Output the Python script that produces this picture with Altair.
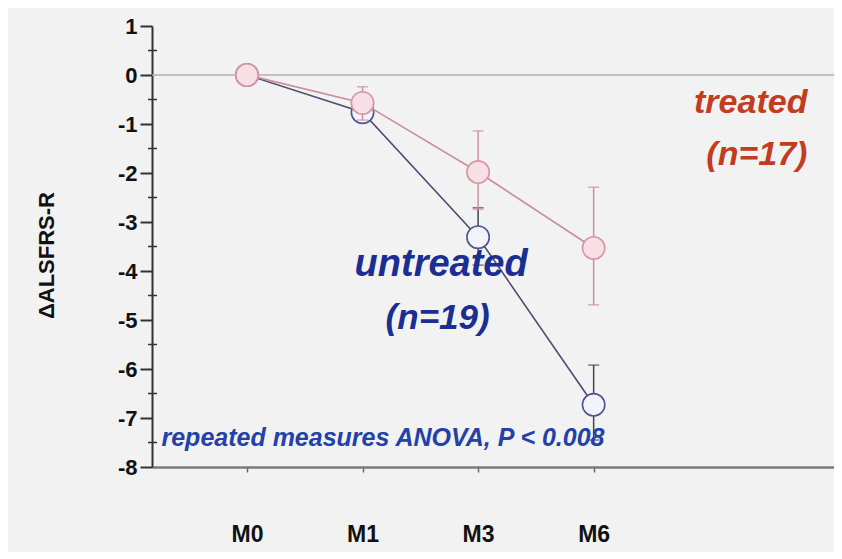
import altair as alt
import pandas as pd

# ---- data ----
months = ["M0", "M1", "M3", "M6"]
month_pos = [0, 1, 2, 3]

treated_mean = [0.0, -0.57, -1.98, -3.53]
treated_lo = [0.0, -0.92, -2.74, -4.69]
treated_hi = [0.0, -0.24, -1.14, -2.29]

untreated_mean = [0.0, -0.76, -3.31, -6.73]
untreated_lo = [0.0, -0.92, -3.88, -7.45]
untreated_hi = [0.0, -0.60, -2.71, -5.92]

y_ticks = [1, 0, -1, -2, -3, -4, -5, -6, -7, -8]
y_minor = [0.5, -0.5, -1.5, -2.5, -3.5, -4.5, -5.5, -6.5, -7.5]

treated = pd.DataFrame({"pos": month_pos, "month": months, "mean": treated_mean,
                        "lo": treated_lo, "hi": treated_hi})
untreated = pd.DataFrame({"pos": month_pos, "month": months, "mean": untreated_mean,
                          "lo": untreated_lo, "hi": untreated_hi})
minor_df = pd.DataFrame({"v": y_minor})

FONT = "Liberation Sans"
YTITLE = "ΔALSFRS-R"
T_LINE = "#c98d9c"
T_FILL = "#f8dfe5"
T_TEXT = "#c23d1d"
U_LINE = "#4a4c72"
U_FILL = "#f3f3fb"
U_TEXT = "#1b2f93"

xscale = alt.Scale(domain=[-0.822, 5.08], nice=False, zero=False)
yscale = alt.Scale(domain=[-8, 1], nice=False, zero=False)

x_axis = alt.Axis(values=month_pos,
                  labelExpr="['M0','M1','M3','M6'][datum.value]",
                  title=None, grid=False,
                  domainColor="#7a7a7a", domainWidth=2.5,
                  tickColor="#666666", tickWidth=1.5, tickSize=5,
                  labelFont=FONT, labelFontSize=23, labelFontWeight="bold",
                  labelColor="#111111", labelPadding=51)
y_axis = alt.Axis(values=y_ticks, title=YTITLE, grid=False,
                  labelExpr="datum.value + ''",
                  domainColor="#333333", domainWidth=2,
                  tickColor="#333333", tickWidth=2, tickSize=12,
                  labelFont=FONT, labelFontSize=22, labelFontWeight="bold",
                  labelColor="#111111", labelPadding=3,
                  titleFont=FONT, titleFontSize=22, titleFontWeight="bold",
                  titleColor="#111111", titleAngle=270,
                  titleX=-106, titleY=229, titleAlign="center",
                  titleBaseline="middle")

x_enc = alt.X("pos:Q", scale=xscale, axis=x_axis, title=None)

zero_line = alt.Chart().mark_rule(color="#b0b0b0", strokeWidth=1.5).encode(
    y=alt.datum(0, scale=yscale, title=YTITLE))

minor = alt.Chart(minor_df).mark_rule(color="#333333", strokeWidth=1.5).encode(
    y=alt.Y("v:Q", scale=yscale, title=YTITLE), x=alt.value(-4), x2=alt.value(5))


def series(df, line_c, fill_c, stroke_c, err_c):
    base = alt.Chart(df)
    err = base.mark_errorbar(orient="vertical", ticks={"size": 11, "thickness": 1.5},
                             color=err_c, thickness=1.5).encode(
        x=x_enc,
        y=alt.Y("lo:Q", scale=yscale, axis=y_axis, title=YTITLE),
        y2="hi:Q")
    line = base.mark_line(color=line_c, strokeWidth=1.6).encode(
        x=x_enc, y=alt.Y("mean:Q", scale=yscale, axis=y_axis, title=YTITLE))
    pts = base.mark_point(shape="circle", size=500, fill=fill_c, fillOpacity=1,
                          stroke=stroke_c, strokeWidth=1.6, opacity=1).encode(
        x=x_enc, y=alt.Y("mean:Q", scale=yscale, axis=y_axis, title=YTITLE))
    return [err, line, pts]


u_layers = series(untreated, U_LINE, U_FILL, "#4f5390", "#444455")
t_layers = series(treated, T_LINE, T_FILL, "#d596a5", "#d08f9d")


def label(txt, x, y, color, size, align="center"):
    return alt.Chart().mark_text(text=txt, font=FONT, fontSize=size, fontWeight="bold",
                                 fontStyle="italic", color=color, align=align,
                                 baseline="middle").encode(
        x=alt.datum(x, scale=xscale, title=None),
        y=alt.datum(y, scale=yscale, title=YTITLE))


texts = [
    label("treated", 4.85, -0.57, T_TEXT, 34, "right"),
    label("(n=17)", 4.85, -1.63, T_TEXT, 34, "right"),
    label("untreated", 1.68, -3.88, U_TEXT, 38),
    label("(n=19)", 1.65, -4.96, U_TEXT, 35),
    label("repeated measures ANOVA, P < 0.008", -0.74, -7.41, "#2341a8", 25, "left"),
]

chart = alt.layer(zero_line, minor, *u_layers, *t_layers, *texts).properties(
    width=682, height=441,
    padding={"left": 144, "top": 18, "right": 0, "bottom": 85},
    autosize=alt.AutoSizeParams(type="none"),
).configure(background="#f2f2f2").configure_view(stroke=None)

chart.save("out.html", embed_options={"renderer": "svg", "actions": False})
